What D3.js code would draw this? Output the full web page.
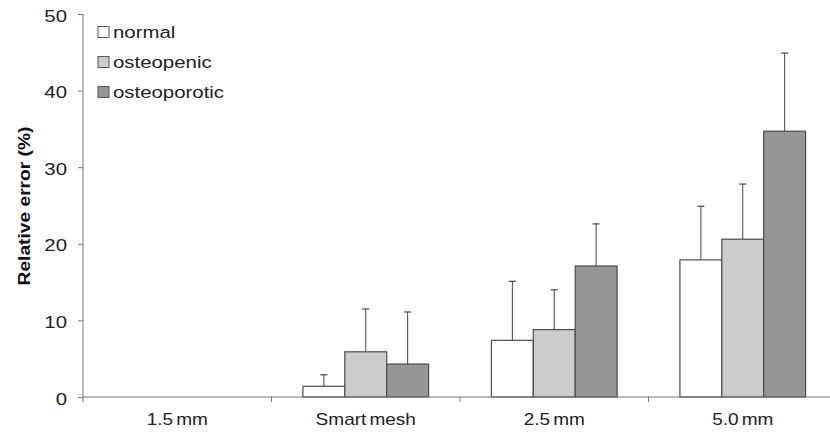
<!DOCTYPE html>
<html><head><meta charset="utf-8">
<script src="https://cdn.jsdelivr.net/npm/d3@7"></script>
<style>body{margin:0;background:#fff}</style>
</head><body>
<svg id="c" width="830" height="445"></svg>
<script>
const categories = ["1.5 mm", "Smart mesh", "2.5 mm", "5.0 mm"];
const seriesNames = ["normal", "osteopenic", "osteoporotic"];
const seriesColors = ["#ffffff", "#cccccc", "#969696"];
const normalVals = [0, 1.4, 7.4, 17.9];
const osteopenicVals = [0, 5.9, 8.8, 20.6];
const osteoporoticVals = [0, 4.3, 17.1, 34.7];
const normalErr = [0, 1.5, 7.7, 7.0];
const osteopenicErr = [0, 5.6, 5.2, 7.2];
const osteoporoticErr = [0, 6.8, 5.5, 10.2];
const yTicks = [0, 10, 20, 30, 40, 50];

const values = [normalVals, osteopenicVals, osteoporoticVals];
const errs = [normalErr, osteopenicErr, osteoporoticErr];
const FONT = "Arial, 'Liberation Sans', sans-serif";
const SX = 1.2;

const svg = d3.select("#c");
const x0 = d3.scaleBand().domain(categories).range([83, 837]).paddingInner(0).paddingOuter(0);
const x1 = d3.scaleBand().domain(seriesNames).range([0, x0.bandwidth()]).paddingOuter(0.75).paddingInner(0);
const y = d3.scaleLinear().domain([0, 50]).range([397, 14]);

// y axis
const ya = svg.append("g").attr("transform", "translate(83,0)")
  .call(d3.axisLeft(y).tickValues(yTicks).tickSize(5).tickPadding(10));
ya.select(".domain").attr("stroke", "#777").attr("d", "M0,14V397");
ya.selectAll(".tick line").attr("stroke", "#777");
ya.selectAll("text").attr("font-family", FONT).attr("font-size", 17).attr("fill", "#222")
  .attr("x", -16 / SX).attr("dy", "0.42em").attr("transform", `scale(${SX},1)`);

// bars
categories.forEach((c, ci) => {
  seriesNames.forEach((s, si) => {
    const v = values[si][ci];
    const bx = x0(c) + x1(s);
    if (v > 0) {
      const e = errs[si][ci];
      const cx = bx + x1.bandwidth() / 2;
      svg.append("line").attr("x1", cx).attr("x2", cx).attr("y1", y(v)).attr("y2", y(v + e))
        .attr("stroke", "#444").attr("stroke-width", 1);
      svg.append("line").attr("x1", cx - 3.5).attr("x2", cx + 3.5).attr("y1", y(v + e)).attr("y2", y(v + e))
        .attr("stroke", "#444").attr("stroke-width", 1.2);
      svg.append("rect").attr("x", bx).attr("y", y(v)).attr("width", x1.bandwidth()).attr("height", y(0) - y(v))
        .attr("fill", seriesColors[si]).attr("stroke", "#4a4a4a").attr("stroke-width", 1.2);
    }
  });
});

// x axis
const xa = svg.append("g").attr("transform", "translate(0,397)")
  .call(d3.axisBottom(x0).tickSize(0).tickPadding(16));
xa.select(".domain").attr("stroke", "#777").attr("d", "M83,0H837");
xa.selectAll(".tick").each(function(d) {
  const t = d3.select(this);
  t.select("text").attr("font-family", FONT).attr("font-size", 17).attr("fill", "#222")
    .attr("transform", `scale(1.12,1)`).attr("word-spacing", "-2px");
});
categories.forEach(c => {
  svg.append("line").attr("x1", x0(c)).attr("x2", x0(c)).attr("y1", 397).attr("y2", 402).attr("stroke", "#777");
});

// axis title
svg.append("text").attr("transform", `translate(30,206) rotate(-90) scale(${SX},1)`).attr("text-anchor", "middle")
  .attr("font-family", FONT).attr("font-size", 16).attr("font-weight", "bold")
  .attr("fill", "#111").text("Relative error (%)");

// legend
seriesNames.forEach((s, i) => {
  const ly = 32 + i * 30;
  svg.append("rect").attr("x", 98).attr("y", ly - 5.5).attr("width", 11).attr("height", 11)
    .attr("fill", seriesColors[i]).attr("stroke", "#555").attr("stroke-width", 1);
  svg.append("text").attr("x", 113 / SX).attr("y", ly).attr("dy", "0.35em").attr("transform", `scale(${SX},1)`)
    .attr("font-family", FONT).attr("font-size", 17).attr("fill", "#222").text(s);
});
</script>
</body></html>
